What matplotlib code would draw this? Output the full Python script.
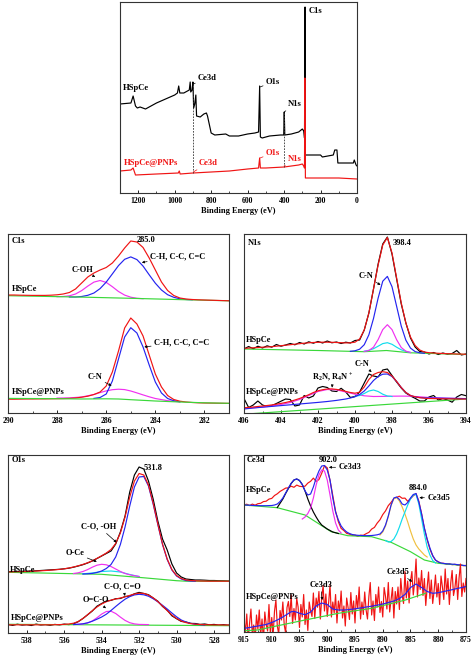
import numpy as np
import matplotlib
matplotlib.use("Agg")
import matplotlib.pyplot as plt

plt.rcParams['font.family'] = ['Liberation Serif', 'DejaVu Serif']
plt.rcParams['font.weight'] = 'bold'
plt.rcParams['mathtext.fontset'] = 'custom'
plt.rcParams['mathtext.rm'] = 'Liberation Serif:bold'
plt.rcParams['mathtext.default'] = 'rm'

RED = '#f01414'
BLUE = '#2424f0'
MAG = '#f030f0'
GRN = '#3ad83a'
CYN = '#10dcec'
YEL = '#f0c040'

# ---------------- survey ----------------
survey_be_a = [1300, 1240, 1228, 1215, 1205, 1190, 1160, 1100, 1050, 1000, 985, 978, 972, 950, 930, 920,
               915, 912, 905, 900, 896, 890, 884, 880, 860, 840, 826, 820, 800, 780, 720, 700, 650, 600,
               560, 540, 534, 530, 520, 480, 420, 402, 399, 396, 360, 320, 300, 292, 288, 285, 283, 250,
               200, 190, 130, 122, 110, 105, 60, 20, 15, 5, 0]
survey_a = [89, 90, 97, 87, 85, 86, 84, 90, 94, 98, 100, 107, 100, 100, 102, 103,
            111, 101, 103, 111, 85, 89, 98, 77, 76, 79, 80, 77, 60, 58, 59, 57, 57, 59,
            60, 61, 107, 56, 55, 57, 58, 58, 81, 58, 59, 61, 64, 62, 55, 186, 38, 38,
            38, 36, 38, 43, 43, 30, 30, 30, 33, 28, 27]
survey_be_b = [1300, 1240, 1228, 1215, 1100, 980, 975, 970, 900, 800, 700, 600, 540, 534, 530, 500,
               400, 320, 300, 292, 288, 286, 283, 200, 100, 0]
survey_b = [22, 23, 25, 18, 19, 20, 22, 19, 20, 21, 22, 24, 25, 35, 25, 25,
            26, 28, 29, 27, 25, 115, 15, 15, 15, 14]
guide_be = [898, 400]
guide_top = [110, 81]
guide_bot = [20, 26]

# ---------------- C1s ----------------
c1_x = np.linspace(290, 281, 37)
c1_red_a = [118.0, 118.0, 117.8, 117.7, 117.6, 117.6, 117.6, 117.8, 118.2, 119.0,
            120.5, 124.0, 130.0, 136.0, 140.0, 143.0, 145.5, 150.0, 157.0, 165.0,
            172.0, 171.0, 165.5, 155.0, 143.0, 131.0, 122.5, 117.5, 115.0, 114.0,
            113.5, 113.2, 113.0, 112.8, 112.6, 112.4, 112.2]
c1_red_b = [13.8, 13.8, 13.9, 14.0, 14.0, 14.1, 14.1, 14.2, 14.3, 14.4,
            14.6, 15.0, 15.8, 16.8, 18.5, 21.0, 27.0, 41.0, 62.0, 85.0,
            95.0, 89.0, 77.0, 58.0, 39.0, 26.0, 17.5, 13.5, 11.8, 11.0,
            10.5, 10.2, 10.0, 9.9, 9.8, 9.7, 9.6]
c1_bg_a_x = [290, 287, 285, 283, 281]
c1_bg_a = [117.3, 115.9, 114.7, 113.4, 112.2]
c1_bg_b_x = [290, 288, 287, 286, 285.5, 285, 284, 283, 282, 281]
c1_bg_b = [14.6, 14.3, 14.0, 14.2, 14.0, 13.3, 12.0, 11.0, 10.2, 9.7]
c1_blue_a_x = np.linspace(287.5, 282.5, 21)
c1_blue_a = [116.0, 116.0, 116.5, 117.7, 120.0, 124.4, 130.9, 139.1, 147.4, 153.7, 156.1,
             153.4, 146.9, 138.2, 129.8, 123.0, 118.3, 115.7, 114.2, 113.5, 113.2]
c1_mag_a_x = np.linspace(288, 284.5, 15)
c1_mag_a = [116.3, 116.5, 117.2, 119.0, 122.4, 126.9, 130.9, 132.5, 130.6, 126.3,
            121.5, 117.9, 115.8, 114.7, 114.3]
c1_blue_b_x = np.linspace(286.5, 283, 15)
c1_blue_b = [14.6, 15.5, 19, 32, 54, 76, 85.3, 80, 66, 48, 31, 20, 14.5, 12.3, 11.2]
c1_mag_b_x = [288, 287.5, 287, 286.5, 286.25, 286, 285.75, 285.5, 285.25, 285, 284.75,
              284.5, 284.25, 284, 283.5, 283]
c1_mag_b = [14.9, 15.1, 16.0, 18.5, 20.4, 22.1, 23.3, 23.8, 23.4, 22.0, 20.1,
            18.1, 16.2, 14.5, 12.3, 11.2]

# ---------------- N1s ----------------
n1_x = np.linspace(406, 394, 49)
n1_red_a = [64.5, 65, 65.2, 65.5, 65.8, 66, 66.3, 66.8, 67.3, 67.8,
            68.3, 68.8, 69.3, 69.8, 70.2, 70.5, 70.7, 70.8, 70.8, 70.7,
            70.5, 70.3, 70.1, 70.2, 70.8, 74, 83, 100, 124, 148,
            168, 175.5, 160, 135, 110, 90, 76, 67.5, 63, 61,
            60.3, 60, 59.7, 59.5, 59.3, 59.2, 59, 58.9, 58.7]
n1_black_a = [64.0, 66.5, 64.2, 66.8, 65.0, 67.2, 65.8, 68.5, 66.8, 68.0,
              69.5, 68.2, 70.5, 69.0, 71.2, 69.8, 71.5, 70.0, 72.0, 70.2,
              71.0, 69.5, 70.8, 70.0, 72.5, 73.0, 83.0, 100.0, 124.0, 149.0,
              169.0, 176.0, 159.0, 134.0, 109.0, 90.0, 75.0, 66.0, 61.5, 61.0,
              59.0, 60.5, 58.5, 60.0, 58.8, 59.5, 62.5, 58.0, 59.0]
n1_red_b = [5.3, 5.6, 6.0, 6.5, 7.0, 7.5, 8.1, 8.8, 9.6, 10.5,
            11.6, 13.0, 14.5, 16.3, 18.3, 20.5, 22.2, 23.3, 24.0, 24.1,
            23.6, 22.8, 21.6, 20.5, 19.8, 20.8, 26, 33.5, 38.5, 40.5,
            41.3, 40.5, 37, 31.5, 25.5, 20.5, 17.5, 16.2, 15.3, 14.8,
            14.5, 14.4, 14.3, 14.2, 14.2, 14.1, 14.1, 14.0, 14.0]
n1_black_b = [14.5, 5.5, 8, 12, 8, 6.5, 7.3, 9.5, 11.8, 14,
              13.5, 7, 8, 17.5, 15, 17, 25, 26.5, 25.5, 22,
              21.5, 24.7, 21, 15.5, 16.5, 21, 30, 39, 37, 36,
              43, 44, 37.5, 31, 25, 20, 17, 14.7, 12, 12,
              16, 17.5, 13, 14.5, 13, 10.8, 16, 18.5, 17.3]
n1_bg_a_x = [406, 402, 399.5, 398.3, 397, 394]
n1_bg_a = [64, 62.5, 61.3, 62.5, 60.2, 58.5]
n1_bg_b_x = [406, 394]
n1_bg_b = [-1.2, 14.0]
n1_blue_a_x = np.linspace(400.25, 396.25, 17)
n1_blue_a = [61.7, 62.2, 63.8, 68.3, 78.2, 94.5, 114.9, 131.8, 136.6, 126.3,
             106.7, 86.9, 72.8, 64.9, 61.4, 60.2, 59.7]
n1_comp_a_x = np.linspace(399.5, 397, 11)
n1_mag_a = [61.6, 62.5, 65.8, 73.4, 83.4, 88.3, 83.4, 73.3, 65.5, 61.8, 60.5]
n1_cyan_a = [61.8, 62.7, 64.3, 66.8, 69.4, 70.3, 68.7, 65.8, 63.2, 61.6, 60.6]
n1_blue_b_x = [406, 405.5, 405, 404.5, 404, 403.5, 403, 402.5, 402, 401.5,
               401, 400.5, 400.25, 400, 399.75, 399.5, 399.25, 399, 398.75, 398.5,
               398.25, 398, 397.75, 397.5, 397.25, 397, 396.75, 396.5, 396, 395, 394]
n1_blue_b = [4.0, 5.0, 5.8, 6.6, 7.4, 8.2, 9.0, 9.8, 10.6, 11.5,
             12.6, 14.0, 15.0, 16.3, 18.5, 22, 27, 32.5, 36.5, 38.8,
             39, 36.5, 31.5, 25.5, 20.5, 17.5, 16, 15.4, 15, 14.7, 14.4]
n1_mag_b_x = [406, 405, 404.5, 404, 403.5, 403, 402.5, 402, 401.5, 401, 400.5,
              400, 399.5, 399, 398.5, 398, 397.5, 397, 396.5, 396, 395, 394]
n1_mag_b = [4.5, 6.0, 7.0, 8.5, 10.5, 13.5, 17.5, 21.5, 23.5, 23.2, 21.0,
            18.8, 17.2, 16.5, 16.6, 16.8, 16.9, 16.8, 16.2, 15.5, 14.8, 14.3]
n1_cyan_b_x = [400, 399.75, 399.5, 399.25, 399, 398.75, 398.5, 398.25, 398]
n1_cyan_b = [16.8, 17.5, 19.5, 22, 23, 21.5, 18.8, 17, 16.5]

# ---------------- O1s ----------------
o1_x = np.linspace(539, 527, 49)
o1_black_a = [61.3, 61.5, 61.6, 61.7, 61.8, 62, 62.2, 62.5, 62.8, 63.1,
              63.4, 63.7, 64.2, 64.8, 65.8, 67, 68.3, 70, 72, 74.5,
              77, 79.5, 82, 89, 101, 117, 141, 158, 166, 164,
              152, 134, 112, 94, 83, 69, 60, 56, 54, 53.5,
              53, 53, 52.8, 52.5, 52.5, 52.3, 52.2, 52, 52]
o1_red_a = [61.0, 61.2, 61.3, 61.4, 61.5, 61.7, 61.9, 62.2, 62.5, 62.8,
            63.2, 63.6, 64.2, 65, 66, 67.2, 68.6, 70.2, 72.2, 74.6,
            77.2, 80, 83.5, 89.5, 100, 116, 136, 152, 159.5, 158,
            148, 130, 109, 89, 74, 63.5, 57.5, 54.5, 53, 52.5,
            52.2, 52, 51.9, 51.8, 51.8, 51.8, 51.8, 51.8, 51.8]
o1_black_b = [8.5, 7.6, 8.8, 7.9, 8.3, 7.5, 8.9, 8.0, 8.4, 7.7,
              8.6, 8.1, 8.9, 8.4, 9.2, 11.3, 14.5, 18.2, 22.0, 26.8,
              29.5, 32.0, 32.6, 34.3, 34.5, 36.4, 37.0, 39.2, 40.6, 39.5,
              38.3, 35.0, 31.8, 26.6, 22.8, 17.2, 14.3, 11.6, 11.0, 9.6,
              9.5, 8.6, 9.0, 8.2, 8.6, 7.9, 8.3, 7.8, 8.1]
o1_red_b = [8.2, 8.2, 8.2, 8.2, 8.2, 8.2, 8.2, 8.2, 8.2, 8.2,
            8.3, 8.4, 8.6, 9.0, 9.8, 11.5, 14.5, 18.3, 22.3, 26.0,
            29.0, 31.3, 32.9, 34.0, 35.0, 36.2, 37.6, 39.0, 39.8, 39.6,
            38.0, 35.2, 31.4, 27.0, 22.4, 18.0, 14.5, 12.0, 10.4, 9.4,
            8.8, 8.5, 8.3, 8.2, 8.1, 8.1, 8.0, 8.0, 8.0]
o1_bg_a_x = [539, 534, 531.8, 530, 529.5, 527]
o1_bg_a = [60.7, 58.7, 55.3, 52.3, 51.8, 51.8]
o1_bg_b_x = [539, 527]
o1_bg_b = [8.7, 7.3]
o1_blue_a_x = np.linspace(535, 529, 25)
o1_blue_a = [59.0, 59.2, 59.6, 60.5, 62, 64.5, 68.5, 76, 88.5, 106,
             127, 146, 156, 156.5, 147, 129, 108.5, 88.5, 73.5, 63,
             57, 54, 52.5, 52, 51.8]
o1_mag_a_x = np.linspace(535.5, 532, 15)
o1_mag_a = [59.5, 60.2, 61.5, 63.4, 65.8, 67.8, 68.7, 68.2, 66.5, 64, 61.5, 59.5, 58.2, 57.3, 56.5]
o1_cyan_a_x = [535, 534.5, 534, 533.5, 533, 532.5, 532]
o1_cyan_a = [59.2, 60, 61.5, 62, 61, 58.5, 56.5]
o1_blue_b_x = np.linspace(535.5, 528.5, 29)
o1_blue_b = [8.5, 8.7, 9.2, 10.2, 11.8, 13.8, 16, 18.8, 22.5, 26.5,
             30.3, 33.8, 36.4, 38.1, 38.7, 38.2, 36.8, 34.3, 31.2, 27.7,
             24, 20, 16.2, 13, 11, 9.7, 8.8, 8.3, 8]
o1_mag_b_x = np.linspace(535.5, 531.5, 17)
o1_mag_b = [8.5, 8.7, 9.0, 10.0, 12.0, 15.2, 18.9, 21.5, 21.8, 19.5,
            15.9, 12.6, 10.3, 9.1, 8.6, 8.5, 8.4]

# ---------------- Ce3d ----------------
ce_x = np.linspace(915, 875, 81)
ce_red_a = [127, 127.8, 126.4, 127.9, 126.8, 128.3, 128.7, 130.4, 130.8, 132.9,
            133.6, 136.5, 138.2, 140.6, 142.2, 143.9, 144.2, 145.8, 144.7, 146.9,
            145.7, 145.4, 145.8, 148.9, 150.7, 153.9, 150.6, 152.4, 158.7, 166.3,
            164.2, 151.6, 136.4, 120.7, 110.3, 103.6, 101.4, 98.6, 97.9, 96.6,
            96.9, 95.7, 96.8, 96.7, 98.3, 99.6, 102.9, 104.6, 108.9, 112.2,
            117.4, 121.1, 126.4, 129.6, 133.4, 134.6, 135.8, 133.7, 133.9, 130.7,
            133.3, 136.2, 138.3, 130.8, 118.2, 103.8, 92.3, 82.8, 76.2, 71.8,
            70.2, 68.8, 68.7, 67.8, 68.2, 67.3, 67.7, 66.8, 67.2, 66.3, 66.6]
ce_blue_a = [127, 126.9, 126.8, 126.6, 126.5, 126.4, 126.3, 126.3, 126.3, 126.4,
             126.5, 127, 128, 130.5, 134, 139, 144, 148.7, 152, 153,
             151.5, 147.5, 141, 137, 138, 145, 154, 161, 166, 166.5,
             162, 152, 134, 120, 112, 106, 102.5, 100, 98.5, 97.5,
             97, 96.7, 96.5, 96.4, 96.3, 96.4, 96.5, 96.8, 97.2, 98,
             101, 107, 116, 127, 134, 135, 132.5, 128, 127, 129.5,
             134, 137.5, 138.5, 130, 118, 104, 93, 84, 76.5, 72,
             70, 69, 68.5, 68.2, 68, 67.8, 67.7, 67.3, 67, 66.6, 66.3]
ce_bg_a_x = [915, 909, 904, 899.3, 896.3, 892, 888.5, 885, 882.5, 880, 875]
ce_bg_a = [127, 124.3, 117, 100.3, 96.3, 95.3, 89.7, 80.3, 72, 68.7, 66.3]
ce_blk_x = [909, 908, 907.5, 907, 906.5, 906, 905.5, 905, 904.5, 904, 903.5, 903, 902.5,
            902, 901.5, 901, 900, 899, 898]
ce_blk = [124.5, 133, 138.5, 143.5, 148.5, 152, 153, 151.5, 147.5, 141, 133, 126, 120,
          115, 110.5, 107, 103, 100, 98.5]
ce_mag_x = [904.5, 904, 903.5, 903, 902.5, 902, 901.5, 901, 900.5, 900, 899.5, 899, 898.5, 898, 897.5]
ce_mag = [113, 115, 118.5, 124, 134, 147, 157, 162, 161, 152, 137, 121, 109, 102, 99]
ce_yel_x = [890.5, 890, 889.5, 889, 888.5, 888, 887.5, 887, 886.5, 886, 885.5, 885, 884.5,
            884, 883.5, 883, 882.5, 882]
ce_yel = [97, 100, 106, 115.5, 126.5, 133.5, 134.5, 131, 125, 118, 110, 101, 93, 87, 83, 80, 77, 75]
ce_cyan_x = [889.5, 889, 888.5, 888, 887.5, 887, 886.5, 886, 885.5, 885, 884.5, 884, 883.5,
             883, 882.5, 882, 881.5, 881, 880.5]
ce_cyan = [91.5, 90, 90.5, 93, 98, 105, 113, 120, 127, 133, 137, 137.5, 128, 113, 98, 85, 77, 71.5, 69]
ce_blue_b = [3.7, 4.1, 4.5, 5, 5.5, 6, 6.5, 7, 7.5, 8.5,
             9.5, 10.7, 12, 13.5, 15, 16.8, 18.5, 20.3, 20.5, 19.8,
             18.7, 18, 17.3, 18.6, 20, 23, 26, 27.5, 29, 28.2,
             27.5, 25.2, 23, 22.5, 22, 22, 22, 22.2, 22.5, 22.8,
             23.2, 23.6, 24, 24.5, 25, 25.4, 25.8, 26.3, 26.8, 27.4,
             28, 28.7, 29.5, 30.2, 31, 32.2, 33.5, 35.5, 37.5, 41,
             44.5, 46.2, 48, 46.2, 44.5, 42.5, 40.5, 39.6, 38.7, 39,
             39.3, 39.9, 40.5, 41.1, 41.7, 42.3, 43, 43.6, 44.2, 44.8,
             45.5]
ce_bg_b_x = [915, 912.6, 904, 898, 892, 885.9, 882.3]
ce_bg_b = [1.2, 2, 12, 18.7, 23.7, 32, 38.7]
ce_xn = np.linspace(915, 875, 161)
ce_red_b = [13, -1, 18, -8, 8.5, 23, -3, 7,
            -8.5, 17, 3, 22, -3.5, 13, -9, 20,
            7.5, 1, 27.5, -2, 14.5, -3, 21, 32,
            6, -2, 21.5, 12, 30, 7, -1, 24.5,
            30.5, 15.5, 37, 8.5, 23.5, 12, 33.5, 25,
            4.5, 27.5, 15, 37.5, 7.5, 22, 1.5, 30,
            21, 15.5, 39, 13.5, 34, 24.75, 40.5, 13,
            34, 46.5, 21, 38, 15.5, 29.5, 47, 15,
            30, 19, 37.5, 9, 31, 21, 41, 14,
            26, 6, 34, 24.5, 12.5, 39.5, 18, 31,
            9, 36.5, 23.5, 45, 13, 30, 17.5, 40,
            22, 13, 35.5, 49.5, 17, 31, 11.5, 37.5,
            25, 45, 19.5, 30.5, 15, 44.5, 35.5, 23,
            49.5, 20, 32.5, 44.5, 14, 40.5, 28, 45,
            22.5, 53.5, 36.5, 28.5, 60.5, 34, 51, 29,
            50.5, 60.5, 37, 50, 73, 35, 54, 42.5,
            61.5, 36.5, 53.5, 26.5, 44.5, 60, 33.5, 52,
            28.5, 41, 57, 35, 48.5, 27.5, 56, 45,
            32.5, 63, 38, 53.5, 27.5, 49, 61.5, 36.5,
            44, 57.5, 32.5, 54, 68, 35.5, 49, 40,
            53.5]

# ---------------- drawing ----------------
W, H = 474, 661
fig = plt.figure(figsize=(W / 100, H / 100), dpi=100)


def make_ax(l, r, t, b):
    return fig.add_axes([l / W, (H - b) / H, (r - l) / W, (b - t) / H])


def style(ax, xlim, ylim, major, minor):
    ax.set_xlim(*xlim)
    ax.set_ylim(*ylim)
    ax.set_xticks(np.arange(min(xlim[0], xlim[1]) - 1e-6, max(xlim) + 1e-6, 1.0)[:0])
    ax.xaxis.set_major_locator(plt.MultipleLocator(major))
    ax.xaxis.set_minor_locator(plt.MultipleLocator(minor))
    ax.set_yticks([])
    ax.tick_params(axis='x', which='major', direction='in', length=2.5, width=0.6,
                   labelsize=5.6, pad=3)
    ax.tick_params(axis='x', which='minor', direction='in', length=1.3, width=0.5)
    for s in ax.spines.values():
        s.set_linewidth(0.8)
        s.set_color('#333333')
    ax.set_xlabel('Binding Energy (eV)', fontsize=6, fontweight='bold', labelpad=1.5)


def txt(ax, s, x, y, color='k', ha='left', size=6):
    ax.text(x, y, s, color=color, ha=ha, va='center', fontsize=size, fontweight='bold')


def lead(ax, s, pt, at, color='k', ha='left', size=6, head=True):
    ap = dict(arrowstyle='-|>' if head else '-', color=color, lw=0.5,
              mutation_scale=3.5, shrinkA=0, shrinkB=0)
    ax.annotate(s, xy=pt, xytext=at, color=color, ha=ha, va='center', fontsize=size,
                fontweight='bold', arrowprops=ap)


LW = 0.85

# survey
ax = make_ax(120, 357, 2, 193)
ax.plot(survey_be_a, survey_a, color='k', lw=LW)
ax.plot(survey_be_b, survey_b, color=RED, lw=LW)
ax.vlines(guide_be, guide_bot, guide_top, colors='#333333', linestyles=(0, (2, 1.5)), lw=0.6)
style(ax, (1300, 0), (0, 191), 200, 100)
txt(ax, 'HSpCe', 1284, 105, size=6.2)
lead(ax, 'Ce3d', (898, 109), (872, 115), head=False, size=6.2)
lead(ax, 'O1s', (532, 106), (500, 111), head=False, size=6.2)
lead(ax, 'N1s', (399, 81), (380, 89), head=False, size=6.2)
lead(ax, 'C1s', (284, 178), (266, 182), head=False, size=6.2)
txt(ax, 'HSpCe@PNPs', 1278, 30, color=RED, size=6.2)
lead(ax, 'Ce3d', (898, 21), (868, 30), color=RED, head=False, size=6.2)
lead(ax, 'O1s', (532, 35), (500, 40), color=RED, head=False, size=6.2)
lead(ax, 'N1s', (400, 27), (378, 34), color=RED, head=False, size=6.2)

# C1s
ax = make_ax(8, 229, 234, 413)
ax.plot(c1_mag_a_x, c1_mag_a, color=MAG, lw=LW)
ax.plot(c1_blue_a_x, c1_blue_a, color=BLUE, lw=LW)
ax.plot(c1_bg_a_x, c1_bg_a, color=GRN, lw=LW)
ax.plot(c1_x, c1_red_a, color=RED, lw=LW)
ax.plot(c1_mag_b_x, c1_mag_b, color=MAG, lw=LW)
ax.plot(c1_blue_b_x, c1_blue_b, color=BLUE, lw=LW)
ax.plot(c1_x, c1_red_b, color=RED, lw=LW)
ax.plot(c1_bg_b_x, c1_bg_b, color=GRN, lw=LW)
style(ax, (290, 281), (0, 179), 2, 1)
txt(ax, 'C1s', 289.85, 172)
txt(ax, '285.0', 284.76, 173)
lead(ax, 'C-H, C-C, C=C', (284.55, 150.5), (284.22, 156.5))
lead(ax, 'C-OH', (286.45, 136), (286.97, 143.5), ha='center')
txt(ax, 'HSpCe', 289.85, 123.7)
lead(ax, 'C-H, C-C, C=C', (284.45, 66), (284.06, 70.7))
lead(ax, 'C-N', (285.78, 27.3), (286.46, 35.7), ha='center')
txt(ax, 'HSpCe@PNPs', 289.85, 21.3)

# N1s
ax = make_ax(244, 466, 234, 413)
ax.plot(n1_x, n1_black_a, color='k', lw=LW)
ax.plot(n1_bg_a_x, n1_bg_a, color=GRN, lw=LW)
ax.plot(n1_comp_a_x, n1_cyan_a, color=CYN, lw=LW)
ax.plot(n1_comp_a_x, n1_mag_a, color=MAG, lw=LW)
ax.plot(n1_blue_a_x, n1_blue_a, color=BLUE, lw=LW)
ax.plot(n1_x, n1_red_a, color=RED, lw=LW)
ax.plot(n1_x, n1_black_b, color='k', lw=LW)
ax.plot(n1_bg_b_x, n1_bg_b, color=GRN, lw=LW)
ax.plot(n1_mag_b_x, n1_mag_b, color=MAG, lw=LW)
ax.plot(n1_cyan_b_x, n1_cyan_b, color=CYN, lw=LW)
ax.plot(n1_blue_b_x, n1_blue_b, color=BLUE, lw=LW)
ax.plot(n1_x, n1_red_b, color=RED, lw=LW)
style(ax, (406, 394), (0, 179), 2, 1)
txt(ax, 'N1s', 405.8, 169.7)
txt(ax, '398.4', 397.95, 170.3)
lead(ax, 'C-N', (398.62, 128), (399.4, 137), ha='center')
txt(ax, 'HSpCe', 405.9, 73)
lead(ax, 'C-N', (399.1, 41), (399.6, 48.7), ha='center')
lead(ax, 'R$_2$N, R$_4$N$^+$', (401.24, 25.5), (401.2, 35.3), ha='center')
txt(ax, 'HSpCe@PNPs', 405.9, 21.3)

# O1s
ax = make_ax(8, 229, 455, 633)
ax.plot(o1_x, o1_black_a, color='k', lw=LW)
ax.plot(o1_bg_a_x, o1_bg_a, color=GRN, lw=LW)
ax.plot(o1_cyan_a_x, o1_cyan_a, color=CYN, lw=LW)
ax.plot(o1_mag_a_x, o1_mag_a, color=MAG, lw=LW)
ax.plot(o1_blue_a_x, o1_blue_a, color=BLUE, lw=LW)
ax.plot(o1_x, o1_red_a, color=RED, lw=LW)
ax.plot(o1_x, o1_black_b, color='k', lw=LW)
ax.plot(o1_bg_b_x, o1_bg_b, color=GRN, lw=LW)
ax.plot(o1_mag_b_x, o1_mag_b, color=MAG, lw=LW)
ax.plot(o1_blue_b_x, o1_blue_b, color=BLUE, lw=LW)
ax.plot(o1_x, o1_red_b, color=RED, lw=LW)
style(ax, (539, 527.2), (0, 178), 2, 1)
txt(ax, 'O1s', 538.8, 173)
txt(ax, '531.8', 531.74, 164.7)
lead(ax, 'C-O, -OH', (533.2, 90.5), (534.14, 106.3), ha='center')
lead(ax, 'O-Ce', (534.26, 71.3), (535.42, 79.7), ha='center')
txt(ax, 'HSpCe', 538.9, 63)
lead(ax, 'C-O, C=O', (532.75, 37), (532.88, 46.3), ha='center')
lead(ax, 'O=C-O', (533.77, 24.7), (534.31, 33), ha='center')
txt(ax, 'HSpCe@PNPs', 538.85, 14.7)

# Ce3d
ax = make_ax(244, 466, 455, 632)
ax.plot(ce_x, ce_red_a, color=RED, lw=LW)
ax.plot(ce_bg_a_x, ce_bg_a, color=GRN, lw=LW)
ax.plot(ce_blk_x, ce_blk, color='k', lw=LW)
ax.plot(ce_mag_x, ce_mag, color=MAG, lw=LW)
ax.plot(ce_yel_x, ce_yel, color=YEL, lw=LW)
ax.plot(ce_cyan_x, ce_cyan, color=CYN, lw=LW)
ax.plot(ce_x, ce_blue_a, color=BLUE, lw=LW)
ax.plot(ce_xn, ce_red_b, color=RED, lw=LW)
ax.plot(ce_bg_b_x, ce_bg_b, color=GRN, lw=LW)
ax.plot(ce_x, ce_blue_b, color=BLUE, lw=LW)
style(ax, (915, 875), (0, 177), 5, 2.5)
txt(ax, 'Ce3d', 914.6, 172)
txt(ax, '902.0', 899.8, 172, ha='center')
lead(ax, 'Ce3d3', (899.7, 164.7), (898.0, 164.7))
txt(ax, 'HSpCe', 914.6, 142)
txt(ax, '884.0', 883.65, 143.7, ha='center')
lead(ax, 'Ce3d5', (883.4, 134.3), (882.0, 134.3))
lead(ax, 'Ce3d5', (884.7, 50.3), (887.27, 60.3), ha='center')
lead(ax, 'Ce3d3', (900.9, 32), (901.2, 47), ha='center')
txt(ax, 'HSpCe@PNPs', 914.6, 35.3)

fig.savefig('out.png', dpi=100)
